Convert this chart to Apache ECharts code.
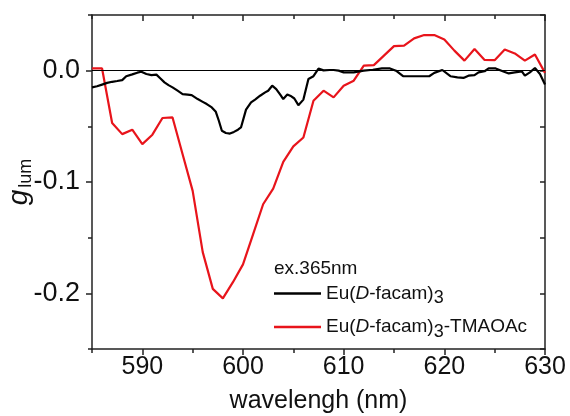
<!DOCTYPE html>
<html><head><meta charset="utf-8">
<script src="https://cdn.jsdelivr.net/npm/echarts@6/dist/echarts.min.js"></script>
<style>html,body{margin:0;padding:0;background:#fff}#c{width:570px;height:416px}</style>
</head><body><div id="c"></div>
<script>
// ---- data ----
const wavelengthBlack = [585.0,585.5,586.0,586.5,587.0,587.5,588.0,588.4,589.0,589.5,589.9,590.4,590.9,591.4,591.8,592.2,592.6,593.0,593.5,594.0,594.5,594.9,595.5,596.0,596.4,596.9,597.3,597.6,597.9,598.3,598.7,599.1,599.5,599.8,600.3,600.8,601.2,601.7,602.2,602.5,602.9,603.3,603.7,604.0,604.4,604.8,605.1,605.5,606.0,606.5,607.0,607.5,608.0,608.6,609.0,609.5,610.0,610.5,611.0,612.0,612.9,613.8,614.6,615.2,615.9,616.7,617.5,618.5,619.0,619.8,620.6,621.3,621.9,622.4,623.0,623.4,624.0,624.4,625.1,625.8,626.4,627.0,627.7,628.0,628.5,629.0,629.5,630.0];
const gBlack = [-0.015,-0.014,-0.0125,-0.011,-0.010,-0.0093,-0.0085,-0.005,-0.0033,-0.0018,-0.001,-0.003,-0.004,-0.0036,-0.007,-0.0105,-0.013,-0.015,-0.018,-0.021,-0.0215,-0.022,-0.0255,-0.028,-0.030,-0.033,-0.037,-0.045,-0.054,-0.056,-0.0565,-0.055,-0.053,-0.051,-0.035,-0.0285,-0.026,-0.0225,-0.0195,-0.018,-0.0135,-0.0165,-0.0215,-0.0255,-0.0215,-0.023,-0.025,-0.031,-0.026,-0.0075,-0.005,0.0018,0.0003,0.0006,0.0006,0.0,-0.0015,-0.0015,-0.0015,0.0,0.0008,0.002,0.002,0.0,-0.005,-0.005,-0.005,-0.005,-0.002,0.0006,-0.005,-0.006,-0.0065,-0.0045,-0.004,-0.0015,-0.0005,0.002,0.002,-0.0005,-0.0025,-0.0015,-0.0006,-0.0045,-0.0015,0.0024,-0.003,-0.0125];
const wavelengthRed = [585,586,587,588,589,590,591,592,593,594,595,596,597,598,599,600,601,602,603,604,605,606,607,608,609,610,611,612,613,614,615,616,617,618,619,620,621,622,623,624,625,626,627,628,629,630];
const gRed = [0.002,0.002,-0.047,-0.057,-0.053,-0.066,-0.0575,-0.0425,-0.042,-0.075,-0.108,-0.163,-0.196,-0.2045,-0.19,-0.174,-0.147,-0.12,-0.106,-0.082,-0.068,-0.06,-0.027,-0.018,-0.024,-0.0135,-0.009,0.0045,0.005,0.0135,0.022,0.0225,0.029,0.032,0.032,0.028,0.018,0.009,0.0195,0.0096,0.0094,0.019,0.0155,0.009,0.0145,-0.002];
const seriesNames = ['Eu(D-facam)3','Eu(D-facam)3-TMAOAc'];
const xMajorTicks = [590,600,610,620,630];
const xMinorTicks = [585,595,605,615,625];
const yMajorTicks = [-0.2,-0.1,0];
const yMinorTicks = [-0.25,-0.15,-0.05,0.05];
const xRange = [585,630];
const yRange = [-0.25,0.05];

// ---- chart ----
const FONT = "'Liberation Sans', Arial, sans-serif";
const AX = '#222';
function pairs(xs, ys){ return xs.map((x,i)=>[x, ys[i]]); }
function xAx(pos, ticks, len, inside, labels, lineShow, extra){
  return Object.assign({
    type:'value', min:xRange[0], max:xRange[1], position:pos,
    axisLine:{show:lineShow, onZero:false, lineStyle:{color:AX, width:1.5}},
    axisTick:{show:true, inside:inside, length:len, customValues:ticks, lineStyle:{color:AX, width:1.5}},
    axisLabel:{show:labels, customValues:ticks, color:'#111', fontSize:25, fontFamily:FONT, margin:6},
    splitLine:{show:false}
  }, extra||{});
}
function yAx(pos, ticks, len, inside, labels, lineShow, extra){
  return Object.assign({
    type:'value', min:yRange[0], max:yRange[1], position:pos,
    axisLine:{show:lineShow, onZero:false, lineStyle:{color:AX, width:1.5}},
    axisTick:{show:true, inside:inside, length:len, customValues:ticks, lineStyle:{color:AX, width:1.5}},
    axisLabel:{show:labels, customValues:ticks, color:'#111', fontSize:27, fontFamily:FONT, margin:12,
      formatter:v=>(Math.abs(v)<1e-9?'0.0':v.toFixed(1))},
    splitLine:{show:false}
  }, extra||{});
}
function legendFmt(name){
  let s = '{n|Eu(}{i|D}{n|-facam)}{s|3}';
  if (name.indexOf('TMAOAc')>=0) s += '{n|-TMAOAc}';
  return s;
}
const chart = echarts.init(document.getElementById('c'), null, {renderer:'canvas'});
chart.setOption({
  animation:false,
  backgroundColor:'#fff',
  grid:{left:92, right:25, top:15, bottom:67, containLabel:false, outerBoundsMode:'none'},
  title:{text:'ex.365nm', left:269, top:254, textStyle:{fontSize:19, fontWeight:'normal', color:'#111', fontFamily:FONT}},
  legend:{
    orient:'vertical', left:269, top:279, itemWidth:47, itemHeight:2.5, itemGap:10, icon:'rect',
    data:seriesNames, formatter:legendFmt,
    textStyle:{fontFamily:FONT, color:'#111', rich:{
      n:{fontSize:19, fontFamily:FONT, color:'#111'},
      i:{fontSize:19, fontFamily:FONT, fontStyle:'italic', color:'#111'},
      s:{fontSize:18, fontFamily:FONT, color:'#111', padding:[10,0,0,0]}
    }}
  },
  xAxis:[
    xAx('bottom', xMajorTicks, 6, false, true, true, {name:'wavelengh (nm)', nameLocation:'middle', nameGap:40,
      nameTextStyle:{fontSize:25, fontFamily:FONT, color:'#111'}}),
    xAx('bottom', xMinorTicks, 4, false, false, false),
    xAx('top', xMajorTicks, 6, true, false, true),
    xAx('top', xMinorTicks, 4, true, false, false)
  ],
  yAxis:[
    yAx('left', yMajorTicks, 6, false, true, true, {name:'{g|g}{s|lum}', nameLocation:'middle', nameRotate:90, nameGap:57,
      nameMoveOverlap:false,
      nameTextStyle:{rich:{
        g:{fontSize:28, fontStyle:'italic', fontFamily:FONT, color:'#111'},
        s:{fontSize:18, fontFamily:FONT, color:'#111', padding:[14,0,0,2]}
      }}}),
    yAx('left', yMinorTicks, 4, false, false, false),
    yAx('right', yMajorTicks, 5, true, false, true),
    yAx('right', yMinorTicks, 5, true, false, false)
  ],
  series:[
    {name:seriesNames[0], type:'line', xAxisIndex:0, yAxisIndex:0, data:pairs(wavelengthBlack, gBlack),
      showSymbol:false, symbol:'none', lineStyle:{color:'#000', width:2.2}, itemStyle:{color:'#000'}, z:3,
      markLine:{silent:true, symbol:'none', label:{show:false}, lineStyle:{color:'#000', width:1, type:'solid'},
        data:[{yAxis:0}], animation:false}},
    {name:seriesNames[1], type:'line', xAxisIndex:0, yAxisIndex:0, data:pairs(wavelengthRed, gRed),
      showSymbol:false, symbol:'none', lineStyle:{color:'#e8141b', width:2.2}, itemStyle:{color:'#e8141b'}, z:2}
  ]
});
</script></body></html>
